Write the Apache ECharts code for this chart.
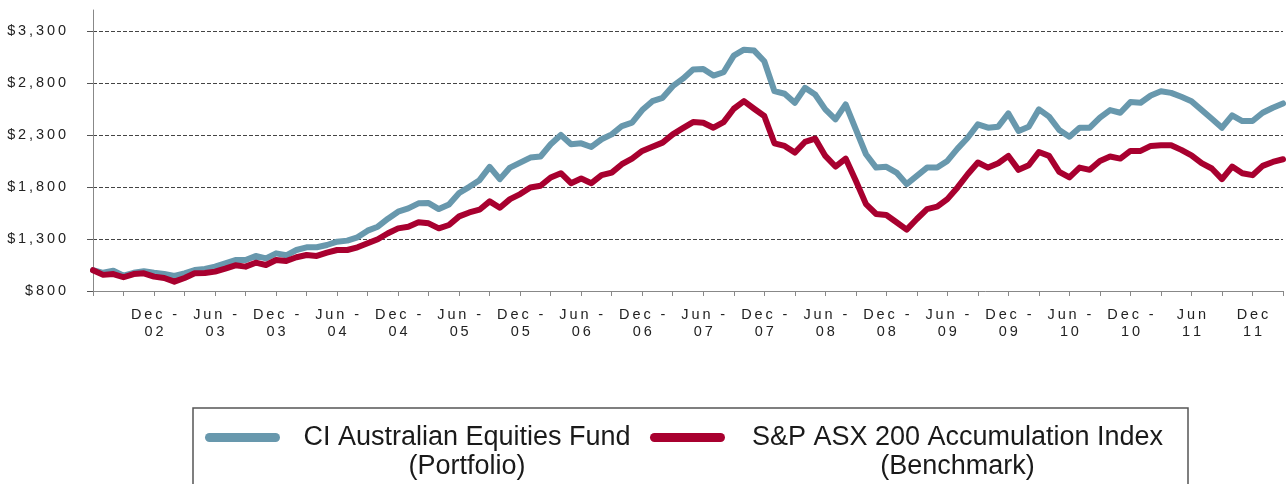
<!DOCTYPE html>
<html>
<head>
<meta charset="utf-8">
<script src="https://cdn.jsdelivr.net/npm/echarts@6/dist/echarts.min.js"></script>
<style>
html, body { margin: 0; padding: 0; background: #fff; }
#chart { width: 1286px; height: 484px; }
</style>
</head>
<body>
<div id="chart"></div>
<script>
// monthly values, Jun-02 .. Mar-12 (growth of $1,000)
var portfolio = [
    1000, 975, 995, 948, 975, 990, 975, 963, 944, 970, 1002, 1012,
    1034, 1066, 1098, 1098, 1137, 1114, 1162, 1143, 1194, 1220, 1220, 1242,
    1274, 1284, 1316, 1380, 1418, 1495, 1562, 1594, 1642, 1645, 1587, 1632,
    1741, 1801, 1865, 1993, 1875, 1986, 2034, 2082, 2092, 2210, 2299, 2210,
    2219, 2184, 2258, 2305, 2385, 2417, 2538, 2624, 2656, 2768, 2840, 2928,
    2934, 2870, 2902, 3062, 3119, 3110, 3007, 2720, 2695, 2609, 2752, 2688,
    2545, 2449, 2593, 2353, 2114, 1986, 1993, 1938, 1827, 1906, 1986, 1986,
    2050, 2168, 2273, 2401, 2369, 2379, 2506, 2337, 2379, 2545, 2475, 2347,
    2283, 2369, 2369, 2465, 2538, 2513, 2615, 2609, 2679, 2720, 2704, 2666,
    2624, 2538, 2455, 2369, 2487, 2433, 2433, 2513, 2561, 2602
];
var benchmark = [
    1000, 955, 963, 932, 963, 970, 938, 925, 890, 925, 970, 973,
    986, 1015, 1047, 1034, 1072, 1050, 1098, 1088, 1124, 1146, 1137, 1168,
    1194, 1194, 1220, 1259, 1297, 1355, 1402, 1418, 1460, 1450, 1402, 1434,
    1517, 1555, 1581, 1661, 1600, 1683, 1731, 1795, 1811, 1891, 1932, 1836,
    1881, 1836, 1913, 1938, 2018, 2072, 2146, 2187, 2226, 2305, 2365, 2423,
    2417, 2369, 2423, 2551, 2624, 2551, 2481, 2219, 2194, 2130, 2232, 2264,
    2098, 1996, 2072, 1859, 1635, 1540, 1530, 1460, 1390, 1492, 1587, 1610,
    1683, 1795, 1922, 2035, 1986, 2028, 2098, 1964, 2008, 2136, 2098, 1945,
    1891, 1986, 1964, 2050, 2092, 2072, 2146, 2146, 2194, 2200, 2200, 2156,
    2104, 2028, 1977, 1875, 1996, 1932, 1913, 2002, 2040, 2066
];
// x tick labels, one every 6 months starting Dec-02
var tickLabels = [
    'Dec -|02', 'Jun -|03', 'Dec -|03', 'Jun -|04', 'Dec -|04', 'Jun -|05',
    'Dec -|05', 'Jun -|06', 'Dec -|06', 'Jun -|07', 'Dec -|07', 'Jun -|08',
    'Dec -|08', 'Jun -|09', 'Dec -|09', 'Jun -|10', 'Dec -|10', 'Jun|11', 'Dec|11'
];
var yTicks = [800, 1300, 1800, 2300, 2800, 3300];
var seriesNames = ['CI Australian Equities Fund', 'S&P ASX 200 Accumulation Index'];
var seriesSubs = ['(Portfolio)', '(Benchmark)'];

var FONT = "'Liberation Sans', Arial, Helvetica, sans-serif";

// 月份类目
var months = [];
(function() {
    var mn = ['Jan','Feb','Mar','Apr','May','Jun','Jul','Aug','Sep','Oct','Nov','Dec'];
    var m = 5, y = 2;
    for (var i = 0; i < portfolio.length; i++) {
        months.push(mn[m] + '-' + (y < 10 ? '0' + y : y));
        m++;
        if (m > 11) { m = 0; y++; }
    }
})();

// fake letter-spacing with thin spaces
function spaced(s) {
    return s.split('').join('\u2009');
}

var chart = echarts.init(document.getElementById('chart'));
chart.setOption({
    animation: false,
    color: ['#6898ad', '#a8002f'],
    grid: { left: 93, right: 3, top: 10, bottom: 193, containLabel: false },
    legend: {
        left: 193,
        top: 408,
        padding: [15, 3, 60, 12],
        borderColor: '#555',
        borderWidth: 1.5,
        itemGap: 1,
        itemWidth: 75,
        itemHeight: 38,
        icon: 'path://M0,0M75,38M4.5,0H70.5A4.5,4.5,0,0,1,70.5,9H4.5A4.5,4.5,0,0,1,4.5,0Z',
        itemStyle: { borderWidth: 0 },
        selectedMode: false,
        data: seriesNames,
        formatter: function(name) {
            var k = seriesNames.indexOf(name);
            var st = k === 0 ? 'p' : 'b';
            return '{' + st + '|' + name + '}\n{' + st + '|' + seriesSubs[k] + '}';
        },
        textStyle: {
            color: '#1a1a1a',
            fontFamily: FONT,
            fontSize: 27,
            lineHeight: 29,
            rich: {
                p: { width: 364, align: 'center', fontSize: 27, lineHeight: 29, fontFamily: FONT, color: '#1a1a1a' },
                b: { width: 455, align: 'center', fontSize: 27, lineHeight: 29, fontFamily: FONT, color: '#1a1a1a' }
            }
        }
    },
    xAxis: {
        type: 'category',
        data: months,
        boundaryGap: false,
        axisLine: { lineStyle: { color: '#888', width: 1 } },
        axisTick: { interval: 2, length: 5, lineStyle: { color: '#888' } },
        axisLabel: {
            interval: function(idx) { return idx > 0 && idx % 6 === 0; },
            formatter: function(v, idx) {
                var t = tickLabels[idx / 6 - 1];
                if (!t) return '';
                var p = t.split('|');
                return spaced(p[0]) + '\n' + spaced(p[1]);
            },
            color: '#222',
            fontFamily: FONT,
            fontSize: 14.5,
            lineHeight: 17,
            margin: 15
        },
        splitLine: { show: false }
    },
    yAxis: {
        type: 'value',
        min: 800,
        max: 3500,
        interval: 500,
        axisLine: { show: true, lineStyle: { color: '#888', width: 1 } },
        axisTick: { show: true, length: 6, customValues: yTicks, lineStyle: { color: '#555' } },
        axisLabel: {
            customValues: yTicks,
            formatter: function(v) {
                return spaced('$' + v.toLocaleString('en-US'));
            },
            color: '#222',
            fontFamily: FONT,
            fontSize: 14.5,
            margin: 27
        },
        splitLine: { show: true, lineStyle: { color: '#444', width: 1, type: [4, 2] } }
    },
    series: [{
        name: seriesNames[0],
        type: 'line',
        data: portfolio,
        showSymbol: false,
        symbol: 'none',
        lineStyle: { width: 6, join: 'round', cap: 'round' },
        z: 2
    }, {
        name: seriesNames[1],
        type: 'line',
        data: benchmark,
        showSymbol: false,
        symbol: 'none',
        lineStyle: { width: 6, join: 'round', cap: 'round' },
        z: 3
    }]
});
</script>
</body>
</html>
